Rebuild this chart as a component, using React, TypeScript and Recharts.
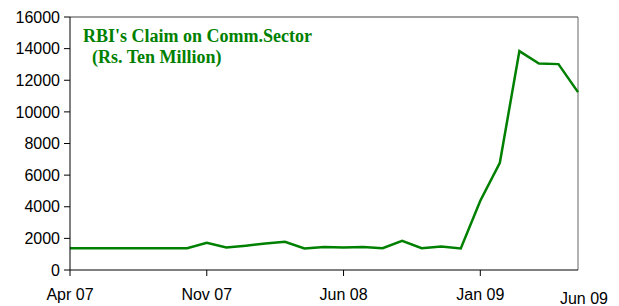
import { CartesianGrid, Line, LineChart, ReferenceLine, XAxis, YAxis } from "recharts";

const months = [
  "Apr 07", "May 07", "Jun 07", "Jul 07", "Aug 07", "Sep 07", "Oct 07",
  "Nov 07", "Dec 07", "Jan 08", "Feb 08", "Mar 08", "Apr 08", "May 08",
  "Jun 08", "Jul 08", "Aug 08", "Sep 08", "Oct 08", "Nov 08", "Dec 08",
  "Jan 09", "Feb 09", "Mar 09", "Apr 09", "May 09", "Jun 09",
];

const claims = [
  1380, 1380, 1380, 1380, 1380, 1380, 1380,
  1720, 1420, 1540, 1680, 1790, 1360, 1450,
  1420, 1450, 1380, 1850, 1380, 1490, 1360,
  4380, 6780, 13840, 13060, 13020, 11250,
];

const xTicks = ["Apr 07", "Nov 07", "Jun 08", "Jan 09", "Jun 09"];
const yTicks = [0, 2000, 4000, 6000, 8000, 10000, 12000, 14000, 16000];

const titleLines = ["RBI's Claim on Comm.Sector", "(Rs. Ten Million)"];

const data = months.map((m, i) => ({ month: m, value: claims[i] }));

const font = "'Liberation Sans', Arial, sans-serif";

function MonthTick(props: any) {
  const { x, y, payload } = props;
  const last = payload.value === "Jun 09";
  return (
    <g>
      {!last && <line x1={x} y1={y - 6} x2={x} y2={y} stroke="#000" />}
      <text
        x={last ? x + 6 : x}
        y={last ? y + 28 : y + 24}
        textAnchor="middle"
        fontSize={16}
        fontFamily={font}
        fill="#000"
      >
        {payload.value}
      </text>
    </g>
  );
}

export default function App() {
  return (
    <div style={{ position: "absolute", left: 0, top: 0, width: 619, height: 306, background: "#fff" }}>
      <LineChart
        width={619}
        height={306}
        data={data}
        margin={{ top: 17, right: 41, bottom: 0, left: 0 }}
      >
        <CartesianGrid vertical={false} horizontal={false} />
        <XAxis
          dataKey="month"
          ticks={xTicks}
          interval={0}
          height={36}
          tickSize={6}
          tickMargin={0}
          tickLine={false}
          axisLine={{ stroke: "#000" }}
          tick={<MonthTick />}
        />
        <YAxis
          width={70}
          domain={[0, 16000]}
          ticks={yTicks}
          interval={0}
          tickSize={6}
          tickMargin={4}
          axisLine={{ stroke: "#000" }}
          tickLine={{ stroke: "#000" }}
          tick={{ fill: "#000", fontSize: 16, fontFamily: font }}
        />
        <ReferenceLine y={16000} stroke="#404040" ifOverflow="visible" />
        <ReferenceLine x="Jun 09" stroke="#666" ifOverflow="visible" />
        <Line
          type="linear"
          dataKey="value"
          stroke="#008000"
          strokeWidth={2.5}
          dot={false}
          isAnimationActive={false}
        />
      </LineChart>
      <svg
        width={619}
        height={306}
        style={{ position: "absolute", left: 0, top: 0, pointerEvents: "none" }}
      >
        <text
          x={83}
          y={42}
          fontSize={18}
          fontWeight="bold"
          fontFamily="'Liberation Serif', 'Times New Roman', serif"
          fill="#008000"
        >
          {titleLines[0]}
        </text>
        <text
          x={92}
          y={63}
          fontSize={18}
          fontWeight="bold"
          fontFamily="'Liberation Serif', 'Times New Roman', serif"
          fill="#008000"
        >
          {titleLines[1]}
        </text>
      </svg>
    </div>
  );
}
